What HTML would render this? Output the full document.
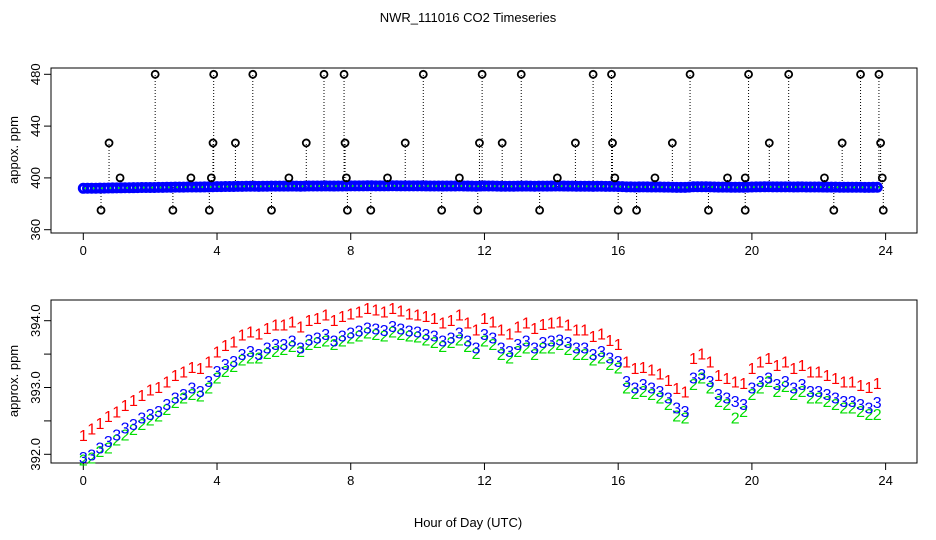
<!DOCTYPE html>
<html><head><meta charset="utf-8"><style>
html,body{margin:0;padding:0;background:#fff}
svg{display:block;font-family:"Liberation Sans",sans-serif}
</style></head><body>
<svg id="c" width="936" height="540" viewBox="0 0 936 540" xmlns="http://www.w3.org/2000/svg">
<text x="468" y="22" text-anchor="middle" font-size="13">NWR_111016  CO2 Timeseries</text>
<text x="468" y="527" text-anchor="middle" font-size="13">Hour of Day (UTC)</text>
<text transform="translate(18,150) rotate(-90)" text-anchor="middle" font-size="13">appox. ppm</text>
<text transform="translate(18,381) rotate(-90)" text-anchor="middle" font-size="13">approx. ppm</text>
<g id="topPanel"></g>
<g id="botPanel"></g>
</svg>
<script>
const hours = [];
for (let i = 0; i < 96; i++) hours.push(i * 0.25);
const series3 = [391.96,392.0,392.1,392.2,392.3,392.4,392.45,392.55,392.6,392.65,392.75,392.85,392.9,393.0,392.95,393.1,393.25,393.35,393.4,393.5,393.55,393.5,393.6,393.65,393.65,393.7,393.6,393.72,393.75,393.8,393.7,393.78,393.82,393.85,393.9,393.88,393.86,393.92,393.88,393.85,393.84,393.8,393.78,393.7,393.75,393.82,393.7,393.6,393.8,393.75,393.6,393.55,393.65,393.7,393.6,393.68,393.7,393.72,393.68,393.6,393.6,393.5,393.55,393.45,393.4,393.1,393.0,393.05,393.0,392.95,392.85,392.7,392.65,393.15,393.2,393.1,392.9,392.85,392.8,392.75,393.0,393.1,393.15,393.05,393.1,393.0,393.05,392.95,392.95,392.9,392.85,392.8,392.8,392.75,392.7,392.78];
const series2 = [391.92,391.95,392.05,392.1,392.22,392.3,392.38,392.45,392.52,392.58,392.68,392.78,392.85,392.9,392.88,393.0,393.15,393.25,393.32,393.42,393.45,393.45,393.52,393.55,393.58,393.62,393.55,393.65,393.68,393.7,393.65,393.7,393.75,393.78,393.82,393.8,393.78,393.84,393.8,393.78,393.76,393.72,393.68,393.62,393.68,393.72,393.62,393.52,393.7,393.65,393.5,393.45,393.55,393.6,393.5,393.6,393.6,393.65,393.58,393.5,393.5,393.42,393.45,393.35,393.3,393.0,392.92,392.95,392.9,392.85,392.75,392.58,392.55,393.05,393.15,393.0,392.8,392.75,392.55,392.65,392.9,393.0,393.1,392.95,393.02,392.9,392.95,392.85,392.85,392.8,392.75,392.7,392.7,392.65,392.6,392.6];
const series1 = [392.2,392.3,392.38,392.48,392.55,392.65,392.72,392.8,392.88,392.92,393.0,393.1,393.15,393.22,393.2,393.3,393.45,393.55,393.6,393.7,393.75,393.72,393.8,393.85,393.85,393.9,393.82,393.92,393.95,394.0,393.92,393.98,394.02,394.05,394.1,394.08,394.05,394.1,394.06,394.02,394.0,393.98,393.95,393.88,393.92,394.0,393.88,393.78,393.95,393.9,393.78,393.72,393.82,393.88,393.8,393.86,393.88,393.9,393.85,393.78,393.78,393.68,393.72,393.62,393.56,393.3,393.2,393.22,393.18,393.12,393.02,392.9,392.85,393.35,393.42,393.3,393.1,393.05,393.0,392.98,393.2,393.3,393.35,393.25,393.3,393.2,393.25,393.15,393.15,393.1,393.05,393.0,393.0,392.95,392.92,392.98];
const spikeHours = [2.15,3.9,5.07,7.2,7.8,10.17,11.93,13.1,15.25,15.8,18.15,19.9,21.1,23.25,23.8,0.77,3.88,4.55,6.67,7.83,9.63,11.85,12.53,14.72,15.83,17.62,20.52,22.7,23.85,1.1,3.22,3.83,6.15,7.87,9.1,11.25,14.18,15.9,17.1,19.27,19.8,22.17,23.9,0.53,2.68,3.77,5.63,7.9,8.6,10.72,11.8,13.65,16.0,16.55,18.7,19.8,22.45,23.93];
const spikeValues = [480,480,480,480,480,480,480,480,480,480,480,480,480,480,480,427,427,427,427,427,427,427,427,427,427,427,427,427,427,400,400,400,400,400,400,400,400,400,400,400,400,400,400,375,375,375,375,375,375,375,375,375,375,375,375,375,375,375];
const xTicks = [0,4,8,12,16,20,24];
const topYTicks = [360,400,440,480];
const topYLabels = ["360","400","440","480"];
const botYTicks = [392.0,392.5,393.0,393.5,394.0];
const botYLabels = ["392.0","","393.0","","394.0"];

const NS = "http://www.w3.org/2000/svg";
function mk(parent, tag, attrs, text) {
  const e = document.createElementNS(NS, tag);
  for (const k in attrs) e.setAttribute(k, attrs[k]);
  if (text !== undefined) e.textContent = text;
  parent.appendChild(e);
  return e;
}
const X = h => 83.3 + h * 33.43;
const Yt = v => 229.7 - (v - 360) * (155.4 / 120);
const Yb = v => 454.3 - (v - 392) * 66.8;

function axes(g, y0, y1, yticks, ylabels, Y) {
  const box = mk(g, "rect", {x: 51, y: y0, width: 866, height: y1 - y0, fill: "none", stroke: "#000", "stroke-width": 1});
  
  
  xTicks.forEach(t => {
    const tk = mk(g, "line", {x1: X(t), x2: X(t), y1: y1, y2: y1 + 7, stroke: "#000"});
    
    
    const lb = mk(g, "text", {x: X(t), y: y1 + 22, "text-anchor": "middle", "font-size": 13}, String(t));
    
    
  });
  yticks.forEach((t, i) => {
    const y = Y(t);
    const tk = mk(g, "line", {x1: 44, x2: 51, y1: y, y2: y, stroke: "#000"});
    
    
    if (ylabels[i]) {
      const lb = mk(g, "text", {transform: `translate(40,${y}) rotate(-90)`, "text-anchor": "middle", "font-size": 13}, ylabels[i]);
      
      
    }
  });
}

const topG = document.getElementById("topPanel");
const botG = document.getElementById("botPanel");
axes(topG, 68, 233, topYTicks, topYLabels, Yt);
axes(botG, 300, 463, botYTicks, botYLabels, Yb);

spikeHours.forEach((h, i) => {
  const ln = mk(topG, "line", {x1: X(h), x2: X(h), y1: Yt(393), y2: Yt(spikeValues[i]), stroke: "#000", "stroke-dasharray": "1,2"});
  
  
});
hours.forEach((h, i) => {
  const c1 = mk(topG, "circle", {cx: X(h), cy: Yt(series3[i]), r: 4, fill: "none", stroke: "#0000ff", "stroke-width": 3});
  
  
  if (i < 95) {
    const c1b = mk(topG, "circle", {cx: X(h) + 4.2, cy: Yt((series3[i] + series3[i + 1]) / 2), r: 4, fill: "none", stroke: "#0000ff", "stroke-width": 3});
    
    
  }
  const c2 = mk(topG, "circle", {cx: X(h) + 2, cy: Yt(series2[i]), r: 1, fill: "#00ff00"});
  
  
  if (i % 3 === 0) {
    const c3 = mk(topG, "circle", {cx: X(h) + 4, cy: Yt(series1[i]) - 1, r: 1, fill: "#ff0000"});
    
    
  }
});
spikeHours.forEach((h, i) => {
  const c = mk(topG, "circle", {cx: X(h), cy: Yt(spikeValues[i]), r: 3.5, fill: "none", stroke: "#000", "stroke-width": 1.8});
  
  
});

function chars(arr, ch, color, name, dy) {
  hours.forEach((h, i) => {
    const t = mk(botG, "text", {x: X(h), y: Yb(arr[i]) + 6 + dy, "text-anchor": "middle", "font-size": 16, fill: color}, ch);
    
    
  });
}
chars(series1, "1", "#ff0000", "series1-point", -6);
chars(series2, "2", "#00dd00", "series2-point", 0);
chars(series3, "3", "#0000ff", "series3-point", 0);
</script>
</body></html>
